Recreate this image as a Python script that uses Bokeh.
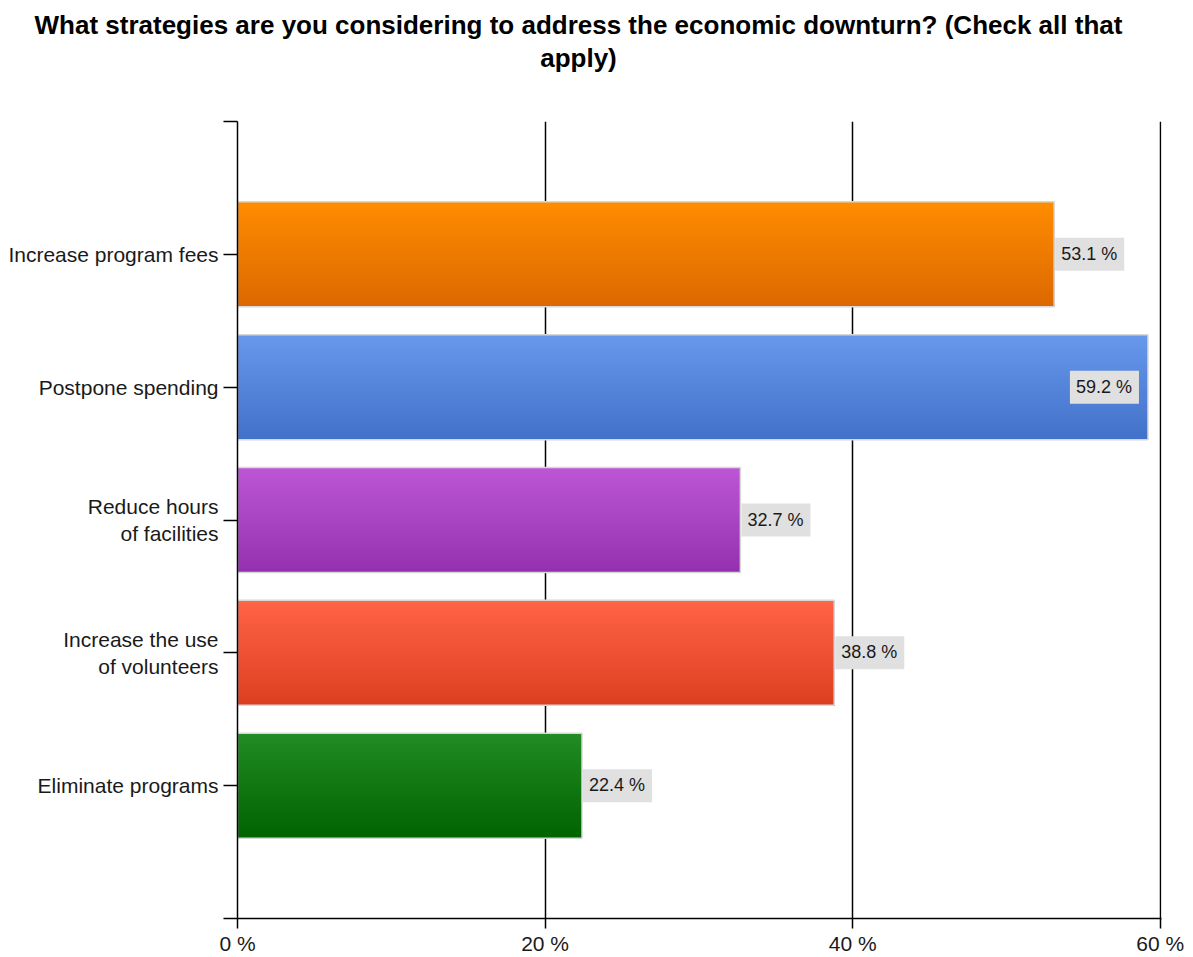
import numpy as np
from bokeh.plotting import figure
from bokeh.models import Range1d, FixedTicker, Title
from bokeh.embed import file_html
from bokeh.resources import INLINE
from bokeh.core.properties import value

title_lines = ["What strategies are you considering to address the economic downturn? (Check all that",
               "apply)"]
categories = ["Increase program fees", "Postpone spending", "Reduce hours\nof facilities",
              "Increase the use\nof volunteers", "Eliminate programs"]
values = [53.1, 59.2, 32.7, 38.8, 22.4]
value_labels = ["53.1 %", "59.2 %", "32.7 %", "38.8 %", "22.4 %"]
x_ticks = [0, 20, 40, 60]
x_tick_labels = ["0 %", "20 %", "40 %", "60 %"]
top_colors = ["#ff8c00", "#6798ec", "#bc56d4", "#ff6448", "#238c23"]
bottom_colors = ["#dc6800", "#4271c9", "#9531b0", "#dc3f1f", "#006300"]

FONT = "Liberation Sans"
W, H = 1193, 957
FRAME_LEFT = 237
TITLE_CENTER = 578
TITLE_SIZE = 26
positions = np.arange(1, len(categories) + 1)
bar_h = 0.79
n_strips = 40

# Arial/Liberation Sans Bold advance widths (1/1000 em) for centring the title lines
BOLD_W = {" ": 278, "W": 944, "C": 722, "?": 611, "(": 333, ")": 333, "a": 556, "c": 556,
          "d": 611, "e": 556, "g": 611, "h": 611, "i": 278, "k": 556, "l": 278, "m": 889,
          "n": 611, "o": 611, "p": 611, "r": 389, "s": 556, "t": 333, "u": 611, "w": 778,
          "y": 556}


def text_width(s, size):
    return sum(BOLD_W.get(ch, 556) for ch in s) / 1000 * size


p = figure(width=W, height=H, output_backend="svg", toolbar_location=None,
           x_range=Range1d(0, 60.08), y_range=Range1d(6, 0),
           min_border_left=FRAME_LEFT, min_border_right=32, min_border_top=121,
           min_border_bottom=37)
p.outline_line_color = None
p.background_fill_color = "white"

p.ygrid.visible = False
p.xgrid.ticker = FixedTicker(ticks=[20, 40, 60])
p.xgrid.grid_line_color = "black"
p.xgrid.grid_line_width = 1.5


def hex2rgb(h):
    return np.array([int(h[i:i + 2], 16) for i in (1, 3, 5)], dtype=float)


# gradient bars: overlapping strips, each reaching down to the bar bottom
tops, bottoms, rights, cols = [], [], [], []
for i, (pos, v) in enumerate(zip(positions, values)):
    c0, c1 = hex2rgb(top_colors[i]), hex2rgb(bottom_colors[i])
    for k in range(n_strips):
        frac = (k + 0.5) / n_strips
        c = c0 + (c1 - c0) * frac
        tops.append(pos - bar_h / 2 + k * bar_h / n_strips)
        bottoms.append(pos + bar_h / 2)
        rights.append(v)
        cols.append("#%02x%02x%02x" % tuple(int(round(x)) for x in c))
tops, bottoms = np.array(tops), np.array(bottoms)
p.hbar(y=(tops + bottoms) / 2, left=0, right=rights, height=bottoms - tops,
       fill_color=cols, line_color=None)
p.hbar(y=positions, left=0, right=values, height=bar_h, fill_color=None,
       line_color="#d8d8d8", line_width=1.5)

# value labels
inside = [i for i, v in enumerate(values) if v > 56]
outside = [i for i, v in enumerate(values) if v <= 56]
common = dict(text_font=value(FONT), text_font_size="18px", text_color="#1a1a1a",
              text_baseline="middle", background_fill_color="#e0e0e0", padding=[6, 7, 6, 7])
p.text(x=[values[i] for i in outside], y=[positions[i] for i in outside],
       text=[value_labels[i] for i in outside], text_align="left", x_offset=1, **common)
p.text(x=[values[i] for i in inside], y=[positions[i] for i in inside],
       text=[value_labels[i] for i in inside], text_align="right", x_offset=-9, **common)

# axes
ya = p.yaxis[0]
ya.ticker = FixedTicker(ticks=list(range(0, len(categories) + 2)))
overrides = {0: "", len(categories) + 1: ""}
for pos, c in zip(positions, categories):
    overrides[int(pos)] = c
ya.major_label_overrides = overrides
ya.major_label_text_font = FONT
ya.major_label_text_font_size = "21px"
ya.major_label_text_color = "#1a1a1a"
ya.major_label_standoff = 5
ya.major_tick_out = 14
ya.major_tick_in = 0
ya.minor_tick_line_color = None
ya.axis_line_width = 1.5
ya.major_tick_line_width = 1.5
ya.axis_line_color = "black"
ya.major_tick_line_color = "black"

xa = p.xaxis[0]
xa.ticker = FixedTicker(ticks=x_ticks)
xa.major_label_overrides = {tk: lb for tk, lb in zip(x_ticks, x_tick_labels)}
xa.major_label_text_font = FONT
xa.major_label_text_font_size = "21px"
xa.major_label_text_color = "#1a1a1a"
xa.major_label_standoff = 3
xa.major_tick_out = 10
xa.major_tick_in = 0
xa.minor_tick_line_color = None
xa.axis_line_width = 1.5
xa.major_tick_line_width = 1.5
xa.axis_line_color = "black"
xa.major_tick_line_color = "black"

# title: a blank spacer panel next to the frame, then the two lines, each centred
p.add_layout(Title(text=" ", text_font_size="2px", standoff=45), "above")
standoffs = {1: 0, 0: 2}
for idx in (1, 0):
    line = title_lines[idx]
    off = TITLE_CENTER - text_width(line, TITLE_SIZE) / 2 - FRAME_LEFT
    p.add_layout(Title(text=line, align="left", offset=off, standoff=standoffs[idx],
                       text_font=FONT, text_font_style="bold",
                       text_font_size="%dpx" % TITLE_SIZE, text_color="black"), "above")

open("out.html", "w").write(file_html(p, INLINE))
